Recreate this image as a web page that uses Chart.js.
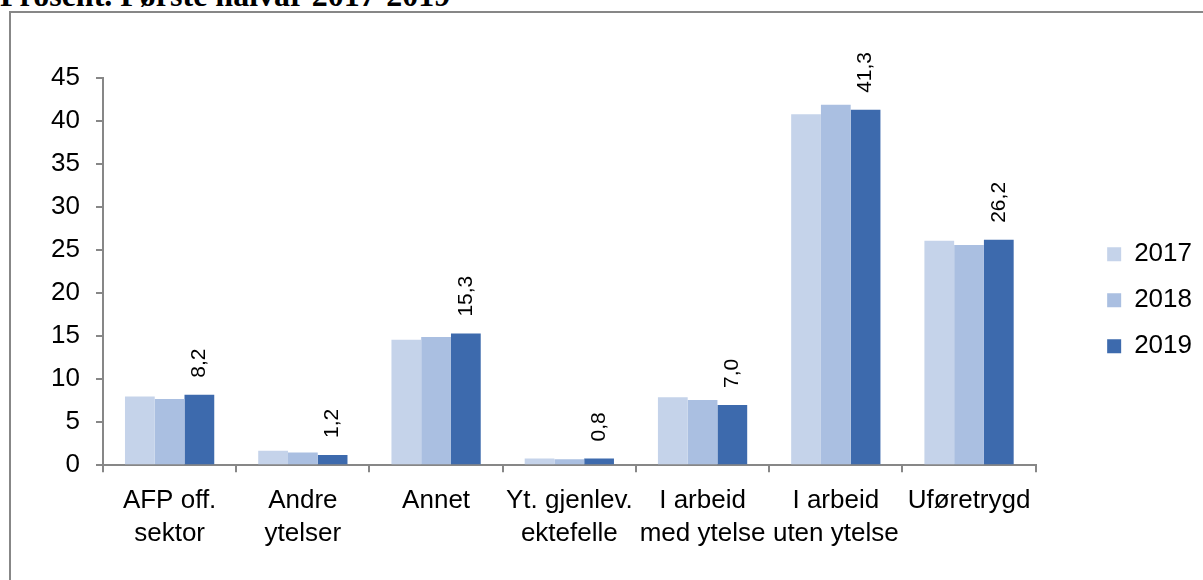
<!DOCTYPE html>
<html>
<head>
<meta charset="utf-8">
<script src="https://cdn.jsdelivr.net/npm/chart.js@4/dist/chart.umd.min.js"></script>
<style>
    body { margin: 0; background: #fff; overflow: hidden; }
    #wrap { position: relative; width: 1203px; height: 580px; }
    #title {
        position: absolute; left: 0; top: -23px; line-height: 32px;
        font: bold 32px "Liberation Serif", "Times New Roman", serif; color: #000; white-space: nowrap;
    }
    #frame {
        position: absolute; left: 9px; top: 11px; width: 1300px; height: 700px;
        border-left: 2px solid #878787; border-top: 2px solid #878787;
    }
    #chart { position: absolute; left: 0; top: 0; }
</style>
</head>
<body>
<div id="wrap">
    <div id="title">Prosent. Første halvår 2017-2019</div>
    <div id="frame"></div>
    <canvas id="chart" width="1203" height="580"></canvas>
</div>
<script>
// data
const categories = [
    ['AFP off.', 'sektor'],
    ['Andre', 'ytelser'],
    'Annet',
    ['Yt. gjenlev.', 'ektefelle'],
    ['I arbeid', 'med ytelse'],
    ['I arbeid', 'uten ytelse'],
    'Uføretrygd'
];
const years = ['2017', '2018', '2019'];
const values2017 = [8.0, 1.7, 14.6, 0.8, 7.9, 40.8, 26.1];
const values2018 = [7.7, 1.5, 14.9, 0.7, 7.6, 41.9, 25.6];
const values2019 = [8.2, 1.2, 15.3, 0.8, 7.0, 41.3, 26.2];
const yTicks = [0, 5, 10, 15, 20, 25, 30, 35, 40, 45];
const colors = ['#c5d3ea', '#aabfe1', '#3d6aad'];

Chart.defaults.font.family = '"Liberation Sans", Arial, sans-serif';
Chart.defaults.color = '#000';

// rotated value labels on the last series
const valueLabels = {
    id: 'valueLabels',
    afterDatasetsDraw(chart) {
        const ctx = chart.ctx;
        const last = chart.data.datasets.length - 1;
        const meta = chart.getDatasetMeta(last);
        ctx.save();
        ctx.font = '21px "Liberation Sans", Arial, sans-serif';
        ctx.fillStyle = '#000';
        ctx.textAlign = 'left';
        ctx.textBaseline = 'middle';
        meta.data.forEach((bar, i) => {
            let v = chart.data.datasets[last].data[i];
            ctx.save();
            ctx.translate(bar.x, bar.y - 17);
            ctx.rotate(-Math.PI / 2);
            ctx.fillText(v.toFixed(1).replace('.', ','), 0, 0);
            ctx.restore();
        });
        ctx.restore();
    }
};

const axisGrey = '#878787';
const series = [values2017, values2018, values2019];

let chart = new Chart(document.getElementById('chart'), {
    type: 'bar',
    data: {
        labels: categories,
        datasets: years.map((y, i) => ({
            label: y,
            data: series[i],
            backgroundColor: colors[i],
            categoryPercentage: 0.67,
            barPercentage: 1.0
        }))
    },
    options: {
        responsive: false,
        animation: false,
        devicePixelRatio: 1,
        layout: { padding: { top: 78, left: 0, right: 1, bottom: 0 } },
        scales: {
            x: {
                grid: { drawOnChartArea: false, drawTicks: true, tickLength: 7, color: axisGrey, lineWidth: 2 },
                border: { color: axisGrey, width: 2 },
                ticks: { font: { size: 26, lineHeight: 1.27 }, padding: 12, maxRotation: 0, autoSkip: false },
                afterFit: s => { s.height = 114.7; }
            },
            y: {
                min: 0,
                max: 45,
                afterBuildTicks: s => { s.ticks = yTicks.map(v => ({ value: v })); },
                grid: { drawOnChartArea: false, drawTicks: true, tickLength: 7, color: axisGrey, lineWidth: 2 },
                border: { color: axisGrey, width: 2 },
                ticks: { font: { size: 26 }, padding: 16 },
                afterFit: s => { s.width = 103; }
            },
            gap: {
                type: 'linear',
                position: 'right',
                display: true,
                grid: { display: false },
                border: { display: false },
                ticks: { display: false },
                afterFit: s => { s.width = 51.5; }
            }
        },
        plugins: {
            legend: {
                position: 'right',
                fullSize: false,
                // blank title just pushes the items down a little
                title: { display: true, text: ' ', font: { size: 26 }, padding: { top: 26, bottom: 0 } },
                labels: { boxWidth: 14, boxHeight: 14, padding: 20, font: { size: 26 } }
            },
            tooltip: { enabled: false }
        }
    },
    plugins: [valueLabels]
});
</script>
</body>
</html>
